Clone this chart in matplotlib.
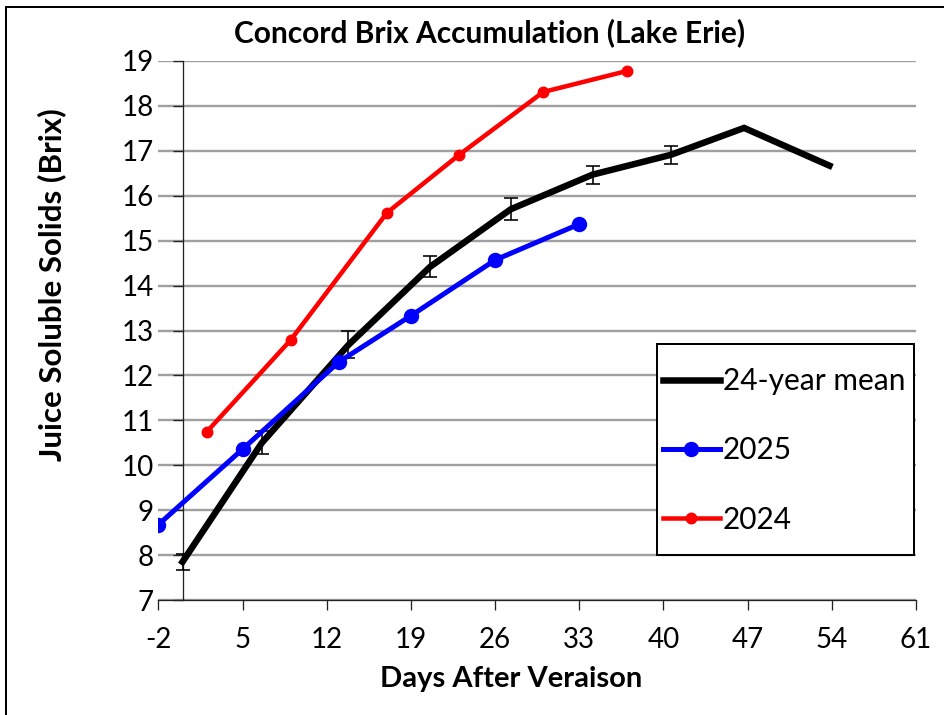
import matplotlib.pyplot as plt
from matplotlib.lines import Line2D
from matplotlib.patches import Rectangle

plt.rcParams['font.family'] = ['Lato', 'DejaVu Sans']
plt.rcParams['axes.unicode_minus'] = False

# 24-year mean (with std error on the first points)
mean_x = [0, 6.6, 13.8, 20.6, 27.3, 34.1, 40.6, 46.7, 53.8]
mean_y = [7.85, 10.5, 12.68, 14.42, 15.7, 16.47, 16.91, 17.51, 16.67]
mean_err = [0.18, 0.26, 0.3, 0.23, 0.25, 0.2, 0.2]

# 2025
y25_x = [-2, 5, 13, 19, 26, 33]
y25_y = [8.68, 10.36, 12.3, 13.33, 14.57, 15.37]

# 2024
y24_x = [2, 9, 17, 23, 30, 37]
y24_y = [10.74, 12.79, 15.62, 16.91, 18.31, 18.78]

xticks = list(range(-2, 62, 7))
yticks = list(range(7, 20))

px = 0.72  # points per pixel at dpi 100

fig = plt.figure(figsize=(9.45, 7.15), dpi=100)
ax = fig.add_axes([0.1677, 0.1608, 0.8016, 0.7539])

ax.plot(mean_x, mean_y, color='black', lw=6.5 * px, label='24-year mean',
        solid_joinstyle='miter', zorder=3)
ax.errorbar(mean_x[:len(mean_err)], mean_y[:len(mean_err)], yerr=mean_err,
            fmt='none', ecolor='black', elinewidth=1.6 * px, capsize=7 * px,
            capthick=1.6 * px, zorder=4)
ax.plot(y25_x, y25_y, color='#0000ff', lw=5 * px, marker='o',
        markersize=14 * px, label='2025', zorder=5)
ax.plot(y24_x, y24_y, color='#ff0000', lw=4.5 * px, marker='o',
        markersize=10.5 * px, label='2024', zorder=6)

ax.set_xlim(-2, 61)
ax.set_ylim(7, 19)
ax.set_xticks(xticks)
ax.set_yticks(yticks)

ax.yaxis.grid(True, color='#a0a0a0', lw=2.4 * px)
ax.set_axisbelow(True)

for s in ['top', 'right']:
    ax.spines[s].set_visible(False)
ax.spines['left'].set_position(('data', 0))
ax.spines['left'].set_color('#222222')
ax.spines['left'].set_linewidth(1.3 * px)
ax.spines['bottom'].set_color('#222222')
ax.spines['bottom'].set_linewidth(1.3 * px)

ax.tick_params(axis='y', direction='out', length=10 * px, width=1.3 * px,
               pad=19 * px, labelsize=20, colors='#222222')
ax.tick_params(axis='x', direction='out', length=10 * px, width=1.3 * px,
               pad=17 * px, labelsize=20, colors='#222222')
for lab in ax.get_yticklabels() + ax.get_xticklabels():
    lab.set_color('black')

fig.text(490 / 945, 1 - 33 / 715, 'Concord Brix Accumulation (Lake Erie)',
         ha='center', va='center', fontsize=21.5, fontweight='bold')
fig.text(511 / 945, 1 - 679 / 715, 'Days After Veraison',
         ha='center', va='center', fontsize=21, fontweight='bold')
fig.text(52 / 945, 1 - 285 / 715, 'Juice Soluble Solids (Brix)',
         ha='center', va='center', fontsize=22.5, fontweight='bold', rotation=90)

# legend box drawn by hand, entries placed inside it
ax.add_patch(Rectangle((0.658, 0.0835), 0.339, 0.3915, transform=ax.transAxes,
                       facecolor='white', edgecolor='black', lw=2 * px,
                       clip_on=False, zorder=7))
leg = ax.legend(loc='center left', bbox_to_anchor=(0.666, 0.2774),
                fontsize=21.5, frameon=False, handlelength=1.9,
                handletextpad=0.1, labelspacing=1.38, borderpad=0,
                borderaxespad=0)
leg.set_zorder(8)

# outer chart border (top and left visible)
fig.add_artist(Line2D([6 / 945, 6 / 945], [0, 1 - 7 / 715], color='black',
                      lw=2 * px, transform=fig.transFigure))
fig.add_artist(Line2D([6 / 945, 1], [1 - 7 / 715, 1 - 7 / 715], color='black',
                      lw=2 * px, transform=fig.transFigure))

fig.savefig('out.png', dpi=100)
